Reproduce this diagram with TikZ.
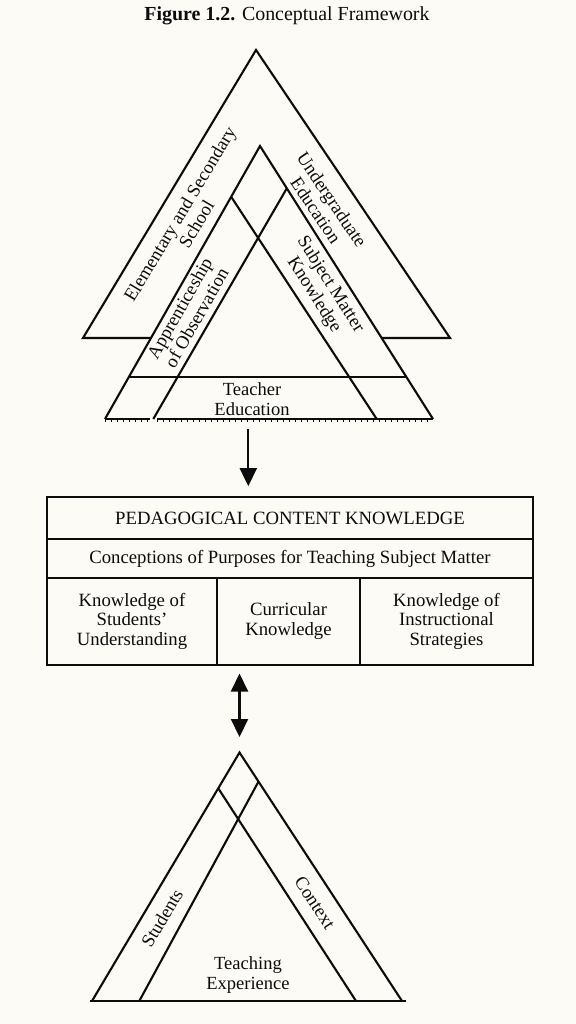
\documentclass[tikz,border=0pt]{standalone}
\usepackage{fontspec}
\setmainfont{Liberation Serif}
\usetikzlibrary{arrows.meta,calc}
\definecolor{paper}{RGB}{252,251,246}
\definecolor{ink}{RGB}{12,12,12}
\begin{document}
\begin{tikzpicture}[x=1bp,y=-1bp, line width=2.1bp, draw=ink, line join=miter,
  lbl/.style={font=\fontsize{18.6}{19.5}\selectfont, align=center, inner sep=0pt, text=ink},
  cell/.style={draw=ink, line width=2.1bp, font=\fontsize{18.8}{19.8}\selectfont, align=center, inner sep=0pt, text=ink},
  arr/.style={-{Triangle[length=18bp,width=17bp]}},
  darr/.style={{Triangle[length=18bp,width=17bp]}-{Triangle[length=18bp,width=17bp]}},
  ticks/.style={line width=3.4bp, dash pattern=on 0.8bp off 5.2bp}]
\fill[paper] (0,0) rectangle (576,1024);
\useasboundingbox (0,0) rectangle (576,1024);

% title
\node[lbl, font=\fontsize{20}{21}\selectfont] (title) at (287,16) {\textbf{Figure 1.2.} Conceptual Framework};

% ---- top structure ----
\coordinate (A1) at (256,50);
\coordinate (B1) at (83,338);
\coordinate (C1) at (450,338);
\draw (A1) -- (B1) -- (C1) -- cycle;

\coordinate (A2) at (260,146);
\coordinate (B2) at (105,419);
\coordinate (C2) at (433,419);
\fill[paper] (A2) -- (B2) -- (C2) -- cycle;
\draw (B2) -- (A2) -- (C2);
\coordinate (pA) at ($(A2)!0.186!(B2)$);
\coordinate (pB) at ($(A2)!0.155!(C2)$);
\coordinate (qA) at (376.7,419);
\coordinate (qB) at (153.3,419);
\draw (pA) -- (qA);
\draw (pB) -- (qB);
\coordinate (hL) at ($(A2)!0.847!(B2)$);
\coordinate (hR) at ($(A2)!0.847!(C2)$);
\draw (hL) -- (hR);
\coordinate (g1) at (150,419);
\coordinate (g2) at (157,419);
\draw (B2) -- (g1);
\draw (g2) -- (C2);
\draw[ticks] ([yshift=-1.4bp]B2) -- ([yshift=-1.4bp]g1);
\draw[ticks] ([yshift=-1.4bp]g2) -- ([yshift=-1.4bp]C2);

\node[lbl, rotate=59] (ess) at (188,219) {Elementary and Secondary\\School};
\node[lbl, rotate=-56] (ue) at (324,205) {Undergraduate\\Education};
\node[lbl, rotate=60.4] (ao) at (188,313) {Apprenticeship\\of Observation};
\node[lbl, rotate=-57.6] (smk) at (322,290) {Subject Matter\\Knowledge};
\node[lbl] (te) at (252,399) {Teacher\\Education};

% ---- box ----
\node[cell, minimum width=486bp, minimum height=42.6bp] (pck) at (290,518) {PEDAGOGICAL CONTENT KNOWLEDGE};
\node[cell, minimum width=486bp, minimum height=38.4bp] (cp) at (290,558.5) {Conceptions of Purposes for Teaching Subject Matter};
\node[cell, minimum width=170bp, minimum height=87.3bp] (ks) at (132,621.3) {Knowledge of\\Students'\\Understanding};
\node[cell, minimum width=143bp, minimum height=87.3bp] (ck) at (288.5,621.3) {Curricular\\Knowledge};
\node[cell, minimum width=173bp, minimum height=87.3bp] (ki) at (446.5,621.3) {Knowledge of\\Instructional\\Strategies};

% ---- arrows ----
\coordinate (t1) at (248.3,429);
\draw[arr, shorten >=9.5bp] (t1) -- (t1 |- pck.north);

\coordinate (A3) at (239.5,752.5);
\draw[darr, shorten <=7.5bp, shorten >=15.5bp] (A3 |- ks.south) -- (A3);

% ---- bottom triangle ----
\coordinate (B3) at (92,1001);
\coordinate (C3) at (402,1001);
\coordinate (bl) at (90,1001);
\coordinate (br) at (406,1001);
\draw (B3) -- (A3) -- (C3);
\draw (bl) -- (br);
\coordinate (sA) at ($(A3)!0.144!(B3)$);
\coordinate (sB) at ($(A3)!0.117!(C3)$);
\coordinate (eA) at (356,1001);
\coordinate (eB) at (139.3,1001);
\draw (sA) -- (eA);
\draw (sB) -- (eB);

\node[lbl, rotate=59.3] (st) at (162,918) {Students};
\node[lbl, rotate=-56.8] (cx) at (315,903) {Context};
\node[lbl] (tex) at (248,975) {Teaching\\Experience};
\end{tikzpicture}
\end{document}
